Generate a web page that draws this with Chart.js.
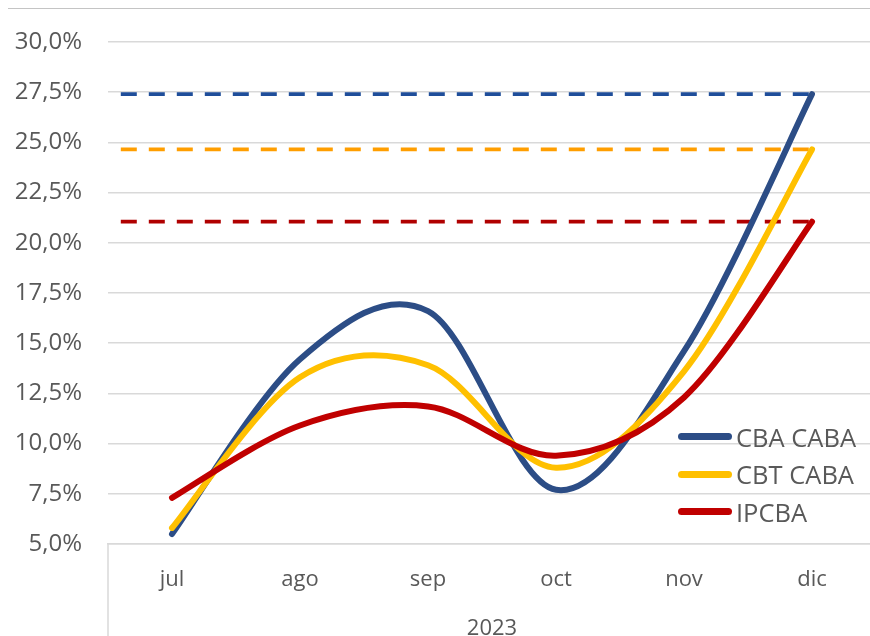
<!DOCTYPE html>
<html><head><meta charset="utf-8">
<script src="https://cdn.jsdelivr.net/npm/chart.js@4.4.0/dist/chart.umd.min.js"></script>
<style>
html,body{margin:0;padding:0;background:#fff;}
#wrap{position:relative;width:870px;height:636px;overflow:hidden;background:#fff;}
#topline{position:absolute;left:8px;top:8px;width:862px;height:1px;background:#c4c4c4;}
canvas{position:absolute;left:0;top:0;}
#legend{position:absolute;left:678px;top:418px;font-family:'Open Sans',sans-serif;font-size:25.5px;color:#595959;}
.row{display:flex;align-items:center;height:37.5px;white-space:nowrap;}
.sw{width:54px;height:7px;border-radius:4px;margin-right:4px;}
</style></head>
<body><div id="wrap"><div id="topline"></div><canvas id="c" width="876" height="636"></canvas><div id="legend"></div></div>
<script>
// ---- data ----
const categories = ['jul', 'ago', 'sep', 'oct', 'nov', 'dic'];
const yearLabel = '2023';
const seriesNames = ['CBA CABA', 'CBT CABA', 'IPCBA'];
const cbaCaba = [5.5, 14.2, 16.6, 7.7, 14.6, 27.4];
const cbtCaba = [5.8, 13.3, 13.9, 8.8, 13.6, 24.65];
const ipcba   = [7.3, 10.9, 11.85, 9.4, 12.3, 21.05];
const yTickLabels = ['5,0%', '7,5%', '10,0%', '12,5%', '15,0%', '17,5%', '20,0%', '22,5%', '25,0%', '27,5%', '30,0%'];

// ---- styles ----
const lineColors = ['#2C4D86', '#FFC000', '#C00000'];
const dashColors = ['#1F4E9A', '#FF9E00', '#B00000'];
const textColor = '#595959';
const gridColor = '#d9d9d9';
const seriesData = [cbaCaba, cbtCaba, ipcba];

// Excel-like smoothing (Catmull-Rom control points)
const excelSmooth = {
  id: 'excelSmooth',
  beforeDatasetDraw(chart, args) {
    const meta = args.meta;
    const line = meta.dataset;
    if (!line || !line.options || !line.options.tension) return;
    line.updateControlPoints(chart.chartArea, meta.iScale.axis);
    const pts = meta.data;
    for (let i = 0; i < pts.length; i++) {
      const p = pts[i], prev = pts[i - 1] || p, next = pts[i + 1] || p;
      const dx = (next.x - prev.x) / 6, dy = (next.y - prev.y) / 6;
      p.cp1x = p.x - dx; p.cp1y = p.y - dy;
      p.cp2x = p.x + dx; p.cp2y = p.y + dy;
    }
    line._path = undefined;
  }
};

// group separator below the category axis
const groupLine = {
  id: 'groupLine',
  afterDraw(chart) {
    const {ctx, chartArea} = chart;
    ctx.save();
    ctx.strokeStyle = gridColor;
    ctx.lineWidth = 1.5;
    ctx.beginPath();
    ctx.moveTo(chartArea.left, chartArea.bottom);
    ctx.lineTo(chartArea.left, chart.height);
    ctx.stroke();
    ctx.restore();
  }
};

const datasets = [];
seriesData.forEach((vals, i) => {
  datasets.push({
    label: seriesNames[i],
    data: vals,
    xAxisID: 'x',
    borderColor: lineColors[i],
    backgroundColor: lineColors[i],
    borderWidth: 6,
    tension: 0.4,
    pointRadius: 0,
    borderCapStyle: 'round',
    borderJoinStyle: 'round',
    fill: false,
    order: 3 - i
  });
});
seriesData.forEach((vals, i) => {
  const level = vals[vals.length - 1];
  datasets.push({
    label: seriesNames[i] + ' ref',
    data: [{x: -0.4, y: level}, {x: categories.length - 1, y: level}],
    xAxisID: 'xr',
    borderColor: dashColors[i],
    borderWidth: 3.8,
    borderDash: [16, 12],
    borderCapStyle: 'butt',
    tension: 0,
    pointRadius: 0,
    fill: false,
    order: 10 + i
  });
});

new Chart(document.getElementById('c'), {
  type: 'line',
  data: { labels: categories, datasets },
  options: {
    responsive: false,
    animation: false,
    devicePixelRatio: 1,
    layout: { padding: { top: 42, right: 0, bottom: 0, left: 0 } },
    plugins: { legend: { display: false }, tooltip: { enabled: false } },
    scales: {
      x: {
        type: 'category',
        offset: true,
        grid: { display: false },
        border: { display: true, color: gridColor, width: 1.5 },
        ticks: { color: textColor, font: { family: 'Open Sans', size: 22 }, padding: 15, maxRotation: 0 },
        title: { display: true, text: yearLabel, color: textColor, font: { family: 'Open Sans', size: 22 }, padding: { top: 0, bottom: -6 } },
        afterFit(scale) { scale.height = 92; }
      },
      xr: {
        type: 'linear',
        display: false,
        min: -0.5,
        max: categories.length - 0.5
      },
      y: {
        min: 5, max: 30,
        border: { display: false },
        grid: { color: gridColor, lineWidth: 1.5, drawTicks: false },
        ticks: {
          stepSize: 2.5,
          padding: 26,
          color: textColor,
          font: { family: 'Open Sans', size: 24 },
          callback: (v, i) => yTickLabels[i]
        },
        afterFit(scale) { scale.width = 108; }
      }
    }
  },
  plugins: [excelSmooth, groupLine]
});

// HTML legend
const lg = document.getElementById('legend');
seriesNames.forEach((n, i) => {
  const r = document.createElement('div'); r.className = 'row';
  const s = document.createElement('div'); s.className = 'sw'; s.style.background = lineColors[i];
  const t = document.createElement('span'); t.textContent = n;
  r.appendChild(s); r.appendChild(t); lg.appendChild(r);
});
</script>
</body></html>
